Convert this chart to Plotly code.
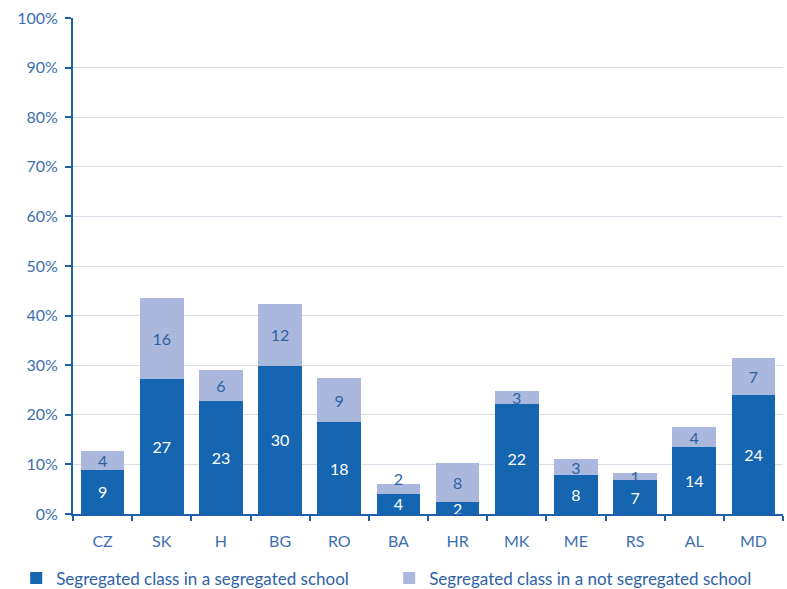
import plotly.graph_objects as go

countries = ["CZ", "SK", "H", "BG", "RO", "BA", "HR", "MK", "ME", "RS", "AL", "MD"]
seg_school = [8.9, 27.2, 22.8, 29.9, 18.5, 4.1, 2.4, 22.2, 7.8, 6.8, 13.5, 24.0]
not_seg_school = [3.9, 16.4, 6.3, 12.4, 8.9, 1.9, 7.9, 2.6, 3.3, 1.4, 4.0, 7.4]
seg_school_labels = ["9", "27", "23", "30", "18", "4", "2", "22", "8", "7", "14", "24"]
not_seg_school_labels = ["4", "16", "6", "12", "9", "2", "8", "3", "3", "1", "4", "7"]
y_ticks = list(range(0, 101, 10))
y_tick_text = [f"{v}%" for v in y_ticks]

DARK = "#1565b0"
LIGHT = "#a9b8dc"
AXIS = "#1d5fa8"
FONT = "Lato"

# the thin BA top segment: lift its label a little so it clears the label below
light_text = [t + "<br> " if c == "BA" else t for c, t in zip(countries, not_seg_school_labels)]

fig = go.Figure()
fig.add_trace(go.Bar(
    x=countries, y=seg_school, text=seg_school_labels,
    name="Segregated class in a segregated school",
    marker=dict(color=DARK, line=dict(width=0)),
    textposition="inside", insidetextanchor="middle", constraintext="none",
    textangle=0,
    textfont=dict(color="white", size=16, family=FONT),
))
fig.add_trace(go.Bar(
    x=countries, y=not_seg_school, text=light_text,
    name="Segregated class in a not segregated school",
    marker=dict(color=LIGHT, line=dict(width=0)),
    textposition="inside", insidetextanchor="middle", constraintext="none",
    textangle=0,
    textfont=dict(color="#2e62a4", size=16, family=FONT),
))

fig.update_layout(
    width=787, height=589,
    barmode="stack", bargap=0.26,
    paper_bgcolor="white", plot_bgcolor="white",
    margin=dict(l=73, r=4, t=18, b=75, autoexpand=False),
    font=dict(family=FONT, color="#3d6fb0", size=14),
    showlegend=True,
    legend=dict(
        orientation="h", x=-0.08, xanchor="left", y=-0.13, yanchor="middle",
        font=dict(size=17, color="#2e62a8", family=FONT),
        itemwidth=30, entrywidth=328, traceorder="normal",
        tracegroupgap=0,
    ),
    xaxis=dict(
        showline=True, linecolor=AXIS, linewidth=2,
        ticks="outside", ticklen=5, tickcolor=AXIS, tickwidth=2,
        tickson="boundaries", showgrid=False, ticklabelstandoff=12,
        tickfont=dict(size=16, color="#3d6fb0"),
    ),
    yaxis=dict(
        range=[0, 100], tickvals=y_ticks, ticktext=y_tick_text,
        showline=True, linecolor=AXIS, linewidth=2,
        ticks="outside", ticklen=6, tickcolor=AXIS, tickwidth=2,
        showgrid=True, gridcolor="#dcdce8", gridwidth=1,
        zeroline=False, ticklabelstandoff=4,
        tickfont=dict(size=16, color="#3d6fb0"),
    ),
)

fig.write_html("out.html")
